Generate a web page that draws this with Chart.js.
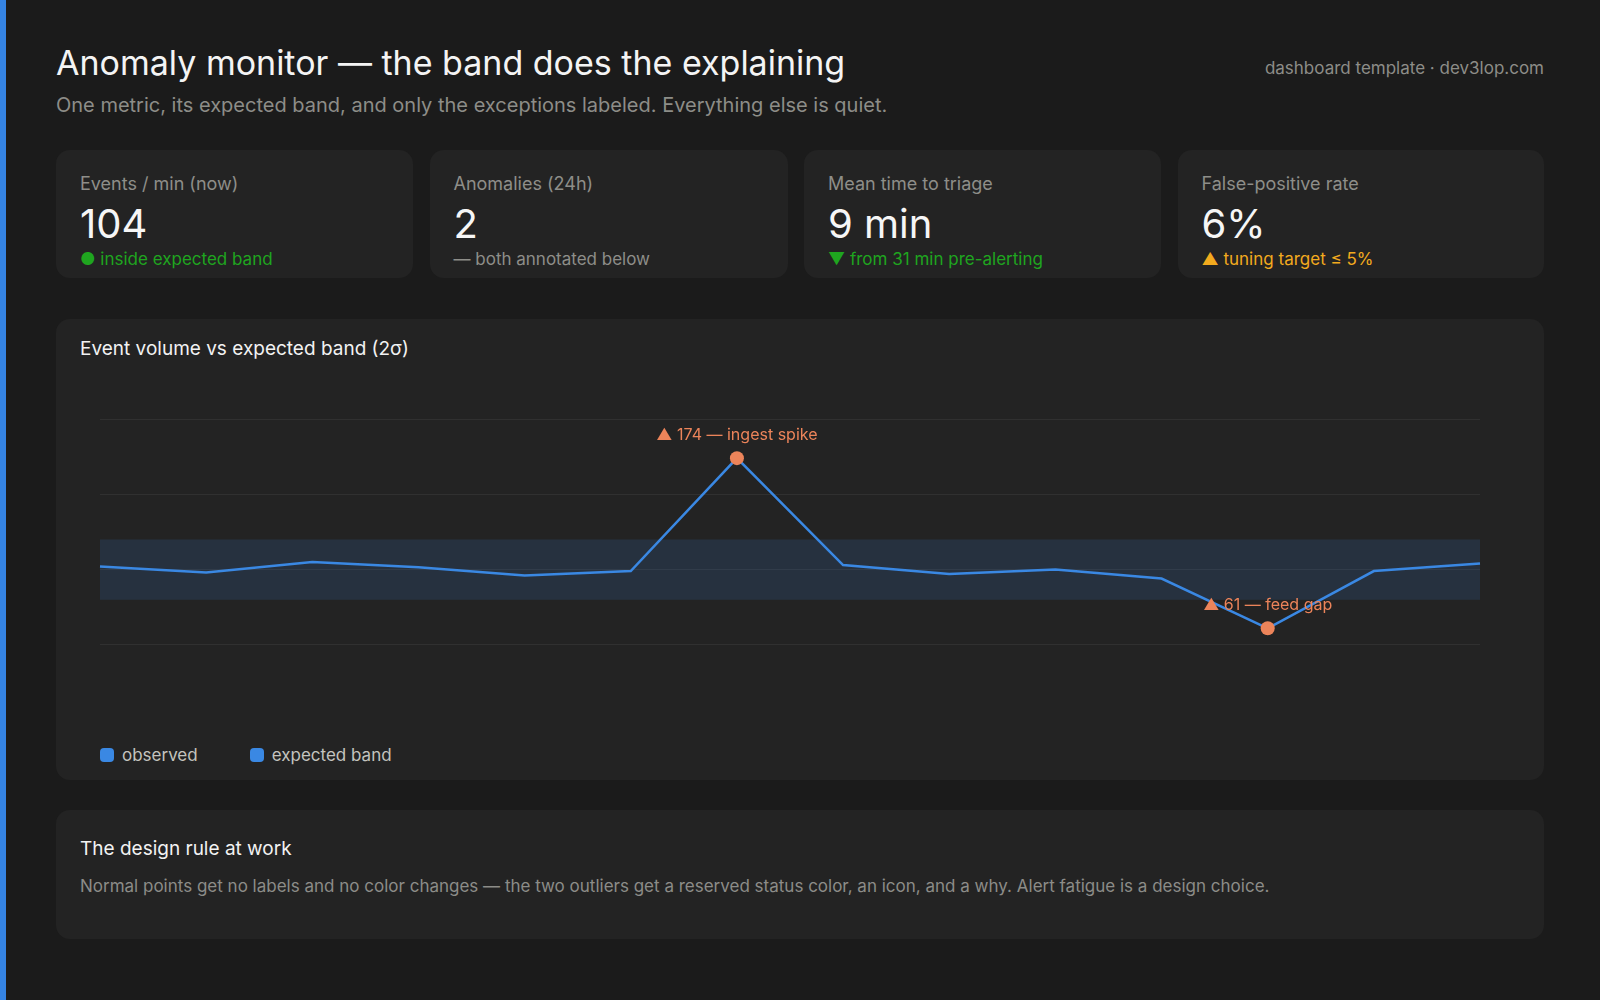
<!DOCTYPE html>
<html>
<head>
<meta charset="utf-8">
<script src="https://cdn.jsdelivr.net/npm/chart.js@4.4.1/dist/chart.umd.min.js"></script>
<style>
  html, body { margin: 0; padding: 0; }
  body {
    width: 1600px; height: 1000px; overflow: hidden;
    background: #1b1b1b; color: #f2f2f2;
    font-family: Inter, "Noto Sans", sans-serif;
    position: relative;
  }
  .strip { position: absolute; left: 0; top: 0; width: 6px; height: 1000px; background: #3584e4; }
  .wrap { padding: 42px 56px 0 56px; position: relative; }
  h1 { margin: 0; font-size: 34px; line-height: 41px; font-weight: 400; color: #f4f4f4; }
  .sub { margin-top: 10px; font-size: 20px; line-height: 24px; color: #8d8d88; }
  .brand { position: absolute; right: 56px; top: 58px; font-size: 17px; line-height: 20px; color: #8d8d88; }
  .kpis { display: grid; grid-template-columns: 357px 358px 357px 1fr; gap: 16.5px; margin-top: 33px; }
  .kpi {
    height: 128px; box-sizing: border-box; background: #232323;
    border-radius: 14px; padding: 23px 24px 0 24px;
  }
  .kpi .lab { font-size: 18px; line-height: 22px; color: #8e8e89; }
  .kpi .val { margin-top: 7px; font-size: 40px; line-height: 44px; color: #f6f6f6; }
  .kpi .note { margin-top: 2px; font-size: 17px; line-height: 22px; color: #8e8e89; }
  .good { color: #1fa51f !important; }
  .warn { color: #f2aa1e !important; }
  .card {
    background: #232323; border-radius: 14px; box-sizing: border-box;
    padding: 18px 24px 0 24px;
  }
  .chartcard { margin-top: 41px; height: 461px; }
  .card .ttl { font-size: 19px; line-height: 24px; color: #f2f2f2; }
  .canvasbox { margin-top: 48px; height: 291px; position: relative; }
  .legend { margin-top: 44px; margin-left: 20px; display: flex; gap: 52px; font-size: 17px; line-height: 22px; color: #c4c4bf; }
  .legend span { display: flex; align-items: center; }
  .legend i { display: inline-block; width: 14px; height: 14px; border-radius: 4px; background: #3a88e3; margin-right: 8px; }
  .rulecard { margin-top: 30px; height: 129px; padding-top: 27px; }
  .rulecard .txt { margin-top: 14px; font-size: 17px; line-height: 22px; color: #8c8c88; }
</style>
</head>
<body>
<div class="strip"></div>
<div class="wrap">
  <h1>Anomaly monitor — the band does the explaining</h1>
  <div class="sub">One metric, its expected band, and only the exceptions labeled. Everything else is quiet.</div>
  <div class="brand">dashboard template · dev3lop.com</div>

  <div class="kpis">
    <div class="kpi"><div class="lab">Events / min (now)</div><div class="val">104</div><div class="note good">● inside expected band</div></div>
    <div class="kpi"><div class="lab">Anomalies (24h)</div><div class="val">2</div><div class="note">— both annotated below</div></div>
    <div class="kpi"><div class="lab">Mean time to triage</div><div class="val">9 min</div><div class="note good">▼ from 31 min pre-alerting</div></div>
    <div class="kpi"><div class="lab">False-positive rate</div><div class="val">6%</div><div class="note warn">▲ tuning target ≤ 5%</div></div>
  </div>

  <div class="card chartcard">
    <div class="ttl">Event volume vs expected band (2σ)</div>
    <div class="canvasbox"><canvas id="c"></canvas></div>
    <div class="legend">
      <span><i></i>observed</span>
      <span><i></i>expected band</span>
    </div>
  </div>

  <div class="card rulecard">
    <div class="ttl">The design rule at work</div>
    <div class="txt">Normal points get no labels and no color changes — the two outliers get a reserved status color, an icon, and a why. Alert fatigue is a design choice.</div>
  </div>
</div>

<script>
// data
const labels = ["t-13", "t-12", "t-11", "t-10", "t-9", "t-8", "t-7", "t-6", "t-5", "t-4", "t-3", "t-2", "t-1", "now"];
const observed = [102, 98, 105, 101.5, 96, 99, 174, 103, 97, 100, 94, 61, 99, 104];
const bandUpper = [120, 120, 120, 120, 120, 120, 120, 120, 120, 120, 120, 120, 120, 120];
const bandLower = [80, 80, 80, 80, 80, 80, 80, 80, 80, 80, 80, 80, 80, 80];
const anomalyIdx = [6, 11];
const anomalyNotes = ["ingest spike", "feed gap"];
const yTicks = [50, 100, 150, 200];

const BLUE = "#3a88e3";
const ORANGE = "#ec845a";

const isAnomaly = i => anomalyIdx.indexOf(i) >= 0;

// labels above the flagged points
const anomalyLabels = {
    id: "anomalyLabels",
    afterDatasetsDraw(chart) {
        const ctx = chart.ctx;
        const meta = chart.getDatasetMeta(0);
        ctx.save();
        ctx.font = "16px Inter, sans-serif";
        ctx.fillStyle = ORANGE;
        ctx.textAlign = "center";
        ctx.textBaseline = "middle";
        anomalyIdx.forEach((idx, k) => {
            const p = meta.data[idx];
            ctx.fillText("▲ " + observed[idx] + " — " + anomalyNotes[k], p.x, p.y - 23);
        });
        ctx.restore();
    }
};

new Chart("c", {
    type: "line",
    data: {
        labels: labels,
        datasets: [{
            label: "observed",
            data: observed,
            borderColor: BLUE,
            borderWidth: 2.5,
            tension: 0,
            fill: false,
            pointRadius: c => isAnomaly(c.dataIndex) ? 7 : 0,
            pointBackgroundColor: ORANGE,
            pointBorderColor: ORANGE,
            pointBorderWidth: 0
        }, {
            label: "expected band",
            data: bandUpper,
            borderWidth: 0,
            pointRadius: 0,
            backgroundColor: "rgba(58,136,227,0.15)",
            fill: "+1"
        }, {
            label: "expected band low",
            data: bandLower,
            borderWidth: 0,
            pointRadius: 0,
            fill: false
        }]
    },
    options: {
        responsive: true,
        maintainAspectRatio: false,
        animation: false,
        layout: { padding: { top: 10, bottom: 10, left: 20, right: 40 } },
        plugins: { legend: { display: false }, tooltip: { enabled: false } },
        scales: {
            x: { display: false },
            y: {
                min: 20,
                max: 200,
                afterBuildTicks: s => { s.ticks = yTicks.map(v => ({ value: v })); },
                ticks: { display: false },
                border: { display: false },
                grid: { color: "#303030", lineWidth: 1, drawTicks: false }
            }
        }
    },
    plugins: [anomalyLabels]
});
</script>
</body>
</html>
